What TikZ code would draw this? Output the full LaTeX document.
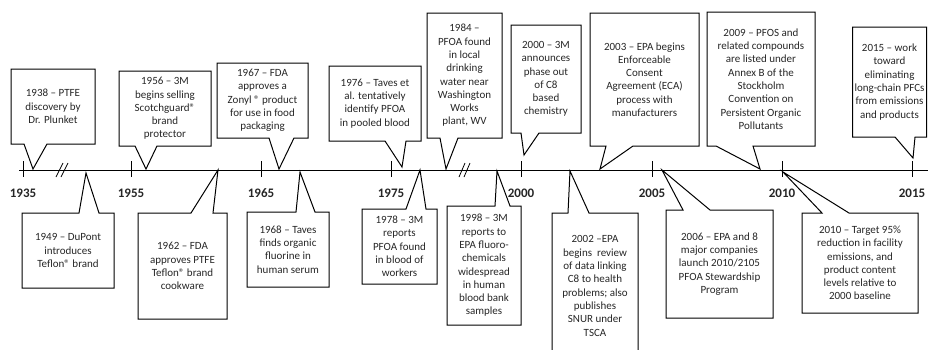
\documentclass[tikz,border=0pt]{standalone}
\usepackage{fontspec}
\setmainfont{Carlito}
\usepackage{tikz}

\newcommand{\evtsize}{\fontsize{11}{13.3}\selectfont}

\begin{document}
\begin{tikzpicture}[x=1pt,y=-1pt,
    evt/.style={font=\evtsize, text=black!85, align=center, inner sep=0pt, outer sep=0pt},
    callout/.style={draw, line width=1pt, line join=miter},
    yr/.style={font=\fontsize{13}{15}\selectfont\bfseries, text=black!85}]
\useasboundingbox (0,0) rectangle (928,349);

% time axis
\draw[line width=1pt,->] (19,170) -- (931,170);
\foreach \x/\yr in {23/1935,131/1955,261/1965,391/1975,521/2000,652/2005,782/2010,912/2015}{
  \draw[line width=1pt] (\x,161) -- (\x,177);
  \node[yr] (y\yr) at (\x,193) {\yr};
}
% breaks
\draw[line width=0.8pt] (56,177) -- (63,163) (61,177) -- (68,163);
\draw[line width=0.8pt] (459,177) -- (465,163) (464,177) -- (470,163);

% events above the axis
\coordinate (t1938) at (33,169);
\node[evt, minimum width=84, minimum height=75] (e1938) at (53,106.5) {1938 – PTFE\\discovery by\\Dr. Plunket};
\draw[callout] (e1938.south west) -- (e1938.north west) -- (e1938.north east) -- (e1938.south east) -- (47,0 |- e1938.south) -- (t1938) -- (24,0 |- e1938.south) -- cycle;

\coordinate (t1956) at (146,169);
\node[evt, minimum width=92, minimum height=75] (e1956) at (165,108.5) {1956 – 3M\\begins selling\\Scotchguard®\\brand\\protector};
\draw[callout] (e1956.south west) -- (e1956.north west) -- (e1956.north east) -- (e1956.south east) -- (157,0 |- e1956.south) -- (t1956) -- (135,0 |- e1956.south) -- cycle;

\coordinate (t1967) at (279,169);
\node[evt, minimum width=91, minimum height=75] (e1967) at (262.5,100.5) {1967 – FDA\\approves a\\Zonyl ® product\\for use in food\\packaging};
\draw[callout] (e1967.south west) -- (e1967.north west) -- (e1967.north east) -- (e1967.south east) -- (294,0 |- e1967.south) -- (t1967) -- (269,0 |- e1967.south) -- cycle;

\coordinate (t1976) at (402,167);
\node[evt, minimum width=92, minimum height=75] (e1976) at (375,103.5) {1976 – Taves et\\al. tentatively\\identify PFOA\\in pooled blood};
\draw[callout] (e1976.south west) -- (e1976.north west) -- (e1976.north east) -- (e1976.south east) -- (406,0 |- e1976.south) -- (t1976) -- (385,0 |- e1976.south) -- cycle;

\coordinate (t1984) at (446,169);
\node[evt, minimum width=75, minimum height=125] (e1984) at (464.5,75.5) {1984 –\\PFOA found\\in local\\drinking\\water near\\Washington\\Works\\plant, WV};
\draw[callout] (e1984.south west) -- (e1984.north west) -- (e1984.north east) -- (e1984.south east) -- (458,0 |- e1984.south) -- (t1984) -- (440,0 |- e1984.south) -- cycle;

\coordinate (t2000) at (524,155);
\node[evt, minimum width=70, minimum height=108] (e2000) at (546,79) {2000 – 3M\\announces\\phase out\\of C8\\based\\chemistry};
\draw[callout] (e2000.south west) -- (e2000.north west) -- (e2000.north east) -- (e2000.south east) -- (539,0 |- e2000.south) -- (t2000) -- (521,0 |- e2000.south) -- cycle;

\coordinate (t2003) at (600,169);
\node[evt, minimum width=109, minimum height=133] (e2003) at (644.5,79.5) {2003 – EPA begins\\Enforceable\\Consent\\Agreement (ECA)\\process with\\manufacturers};
\draw[callout] (e2003.south west) -- (e2003.north west) -- (e2003.north east) -- (e2003.south east) -- (633,0 |- e2003.south) -- (t2003) -- (606,0 |- e2003.south) -- cycle;

\coordinate (t2009) at (760,169);
\node[evt, minimum width=108, minimum height=134] (e2009) at (761,79) {2009 – PFOS and\\related compounds\\are listed under\\Annex B of the\\Stockholm\\Convention on\\Persistent Organic\\Pollutants};
\draw[callout] (e2009.south west) -- (e2009.north west) -- (e2009.north east) -- (e2009.south east) -- (753,0 |- e2009.south) -- (t2009) -- (716,0 |- e2009.south) -- cycle;

\coordinate (t2015) at (913,158);
\node[evt, minimum width=74, minimum height=110] (e2015) at (889.5,82) {2015 – work\\toward\\eliminating\\long-chain PFCs\\from emissions\\and products};
\draw[callout] (e2015.south west) -- (e2015.north west) -- (e2015.north east) -- (e2015.south east) -- (915,0 |- e2015.south) -- (t2015) -- (895,0 |- e2015.south) -- cycle;

% events below the axis
\coordinate (t1949) at (86,173);
\node[evt, minimum width=92, minimum height=75] (e1949) at (68,250.5) {1949 – DuPont\\introduces\\Teflon® brand};
\draw[callout] (e1949.north west) -- (e1949.south west) -- (e1949.south east) -- (e1949.north east) -- (99,0 |- e1949.north) -- (t1949) -- (79,0 |- e1949.north) -- cycle;

\coordinate (t1962) at (218,170);
\node[evt, minimum width=89, minimum height=106] (e1962) at (182.5,266) {1962 – FDA\\approves PTFE\\Teflon® brand\\cookware};
\draw[callout] (e1962.north west) -- (e1962.south west) -- (e1962.south east) -- (e1962.north east) -- (213,0 |- e1962.north) -- (t1962) -- (191,0 |- e1962.north) -- cycle;

\coordinate (t1968) at (300,172);
\node[evt, minimum width=82, minimum height=75] (e1968) at (288,249.5) {1968 – Taves\\finds organic\\fluorine in\\human serum};
\draw[callout] (e1968.north west) -- (e1968.south west) -- (e1968.south east) -- (e1968.north east) -- (315,0 |- e1968.north) -- (t1968) -- (296,0 |- e1968.north) -- cycle;

\coordinate (t1978) at (420,170);
\node[evt, minimum width=75, minimum height=75] (e1978) at (399.5,246.5) {1978 – 3M\\reports\\PFOA found\\in blood of\\workers};
\draw[callout] (e1978.north west) -- (e1978.south west) -- (e1978.south east) -- (e1978.north east) -- (426,0 |- e1978.north) -- (t1978) -- (406,0 |- e1978.north) -- cycle;

\coordinate (t1998) at (497,171);
\node[evt, minimum width=74, minimum height=119] (e1998) at (484,265.5) {1998 – 3M\\reports to\\EPA fluoro-\\chemicals\\widespread\\in human\\blood bank\\samples};
\draw[callout] (e1998.north west) -- (e1998.south west) -- (e1998.south east) -- (e1998.north east) -- (510,0 |- e1998.north) -- (t1998) -- (495,0 |- e1998.north) -- cycle;

\coordinate (t2002) at (570,171);
\node[evt, minimum width=86, minimum height=146] (e2002) at (595,286) {2002 –EPA\\begins\ \ review\\of data linking\\C8 to health\\problems; also\\publishes\\SNUR under\\TSCA};
\draw[callout] (e2002.north west) -- (e2002.south west) -- (e2002.south east) -- (e2002.north east) -- (589,0 |- e2002.north) -- (t2002) -- (568,0 |- e2002.north) -- cycle;

\coordinate (t2006) at (662,170);
\node[evt, minimum width=107, minimum height=108] (e2006) at (719.5,264) {2006 – EPA and 8\\major companies\\launch 2010/2105\\PFOA Stewardship\\Program};
\draw[callout] (e2006.north west) -- (e2006.south west) -- (e2006.south east) -- (e2006.north east) -- (710,0 |- e2006.north) -- (t2006) -- (683,0 |- e2006.north) -- cycle;

\coordinate (t2010) at (783,172);
\node[evt, minimum width=116, minimum height=100] (e2010) at (860,263) {2010 – Target 95\%\\reduction in facility\\emissions, and\\product content\\levels relative to\\2000 baseline};
\draw[callout] (e2010.north west) -- (e2010.south west) -- (e2010.south east) -- (e2010.north east) -- (849,0 |- e2010.north) -- (t2010) -- (822,0 |- e2010.north) -- cycle;
\end{tikzpicture}
\end{document}
